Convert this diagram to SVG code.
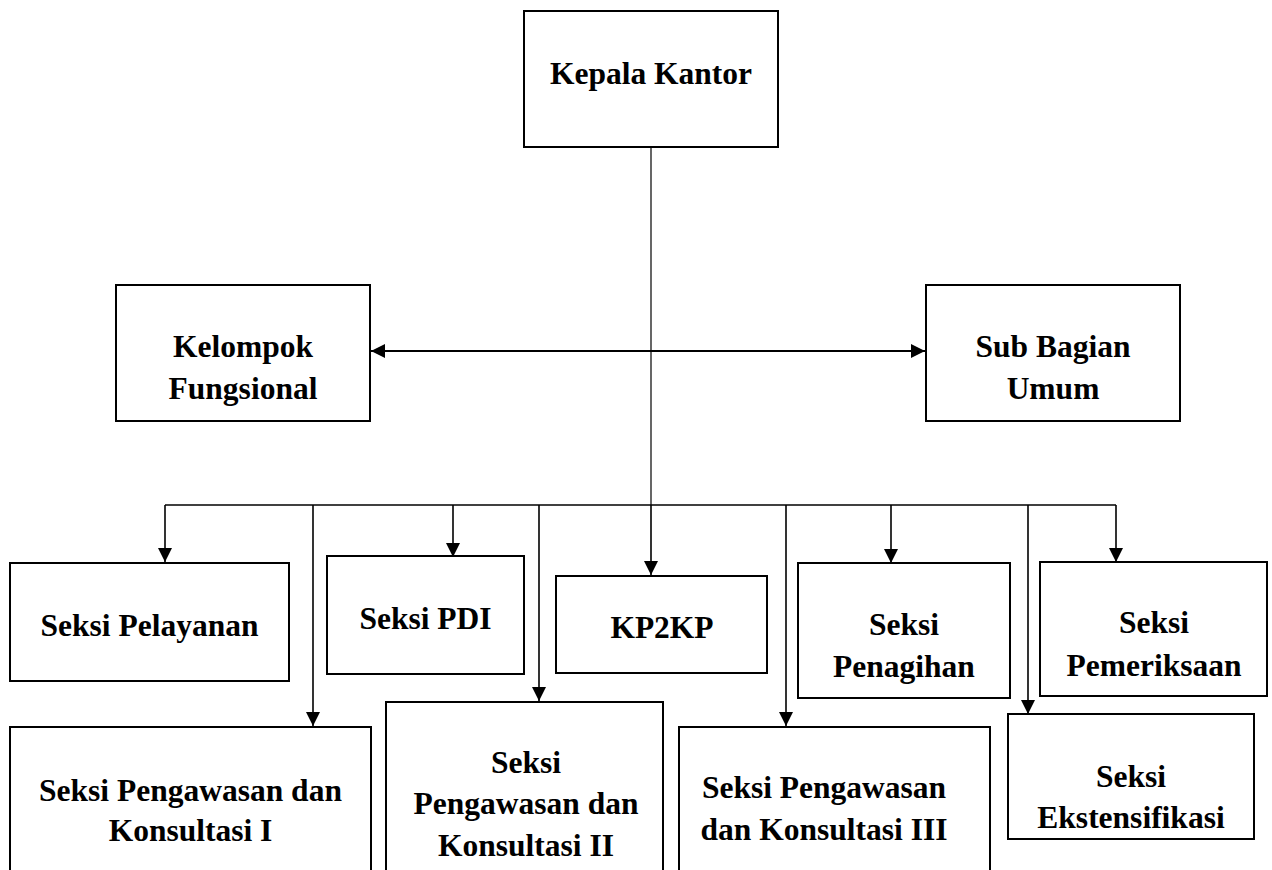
<svg xmlns="http://www.w3.org/2000/svg" width="1272" height="870" viewBox="0 0 1272 870">
<defs>
<style>
.box{fill:#fff;stroke:#000;stroke-width:2}
.lbl{font-family:"Liberation Serif","Times New Roman",serif;font-weight:bold;font-size:31.5px;fill:#000;text-anchor:middle}
.ln{stroke:#000;stroke-width:1.6;fill:none}
.thin{stroke:#000;stroke-width:1.2;fill:none}
.dbl{stroke:#000;stroke-width:2.2;fill:none}
</style>
<marker id="ah" markerUnits="userSpaceOnUse" markerWidth="14" markerHeight="14" viewBox="0 0 14 14" refX="14" refY="7" orient="auto">
<path d="M0,0 L14,7 L0,14 Z" fill="#000"/>
</marker>
<marker id="ahs" markerUnits="userSpaceOnUse" markerWidth="14" markerHeight="14" viewBox="0 0 14 14" refX="0" refY="7" orient="auto">
<path d="M14,0 L0,7 L14,14 Z" fill="#000"/>
</marker>
</defs>
<rect width="1272" height="870" fill="#fff"/>
<g id="connectors">
<line class="thin" x1="651" y1="147" x2="651" y2="505"/>
<line class="dbl" x1="371" y1="351" x2="925" y2="351" marker-start="url(#ahs)" marker-end="url(#ah)"/>
<line class="ln" x1="165" y1="505" x2="1116" y2="505"/>
<line class="ln" x1="165" y1="505" x2="165" y2="562" marker-end="url(#ah)"/>
<line class="ln" x1="313" y1="505" x2="313" y2="726" marker-end="url(#ah)"/>
<line class="ln" x1="453" y1="505" x2="453" y2="557" marker-end="url(#ah)"/>
<line class="ln" x1="539" y1="505" x2="539" y2="701" marker-end="url(#ah)"/>
<line class="ln" x1="651" y1="505" x2="651" y2="575" marker-end="url(#ah)"/>
<line class="ln" x1="786" y1="505" x2="786" y2="726" marker-end="url(#ah)"/>
<line class="ln" x1="891" y1="505" x2="891" y2="563" marker-end="url(#ah)"/>
<line class="ln" x1="1028" y1="505" x2="1028" y2="714" marker-end="url(#ah)"/>
<line class="ln" x1="1116" y1="505" x2="1116" y2="562" marker-end="url(#ah)"/>
</g>
<g id="kepala-kantor">
<rect class="box" x="524" y="11" width="254" height="136"/>
<text class="lbl" x="651" y="84">Kepala Kantor</text>
</g>
<g id="kelompok-fungsional">
<rect class="box" x="116" y="285" width="254" height="136"/>
<text class="lbl" x="243" y="357">Kelompok</text>
<text class="lbl" x="243" y="399">Fungsional</text>
</g>
<g id="sub-bagian-umum">
<rect class="box" x="926" y="285" width="254" height="136"/>
<text class="lbl" x="1053" y="357">Sub Bagian</text>
<text class="lbl" x="1053" y="399">Umum</text>
</g>
<g id="seksi-pelayanan">
<rect class="box" x="10" y="563" width="279" height="118"/>
<text class="lbl" x="149.5" y="636">Seksi Pelayanan</text>
</g>
<g id="seksi-pdi">
<rect class="box" x="327" y="556" width="197" height="118"/>
<text class="lbl" x="425.5" y="629">Seksi PDI</text>
</g>
<g id="kp2kp">
<rect class="box" x="556" y="576" width="211" height="97"/>
<text class="lbl" x="662" y="638">KP2KP</text>
</g>
<g id="seksi-penagihan">
<rect class="box" x="798" y="563" width="212" height="135"/>
<text class="lbl" x="904" y="635">Seksi</text>
<text class="lbl" x="904" y="677">Penagihan</text>
</g>
<g id="seksi-pemeriksaan">
<rect class="box" x="1040" y="562" width="227" height="134"/>
<text class="lbl" x="1154" y="633">Seksi</text>
<text class="lbl" x="1154" y="676">Pemeriksaan</text>
</g>
<g id="seksi-pengawasan-1">
<rect class="box" x="10" y="727" width="361" height="160"/>
<text class="lbl" x="190.5" y="801">Seksi Pengawasan dan</text>
<text class="lbl" x="190.5" y="841">Konsultasi I</text>
</g>
<g id="seksi-pengawasan-2">
<rect class="box" x="386" y="702" width="277" height="185"/>
<text class="lbl" x="526" y="773">Seksi</text>
<text class="lbl" x="526" y="814">Pengawasan dan</text>
<text class="lbl" x="526" y="856">Konsultasi II</text>
</g>
<g id="seksi-pengawasan-3">
<rect class="box" x="679" y="727" width="311" height="160"/>
<text class="lbl" x="824" y="798">Seksi Pengawasan</text>
<text class="lbl" x="824" y="840">dan Konsultasi III</text>
</g>
<g id="seksi-ekstensifikasi">
<rect class="box" x="1008" y="714" width="246" height="125"/>
<text class="lbl" x="1131" y="787">Seksi</text>
<text class="lbl" x="1131" y="828">Ekstensifikasi</text>
</g>
</svg>
